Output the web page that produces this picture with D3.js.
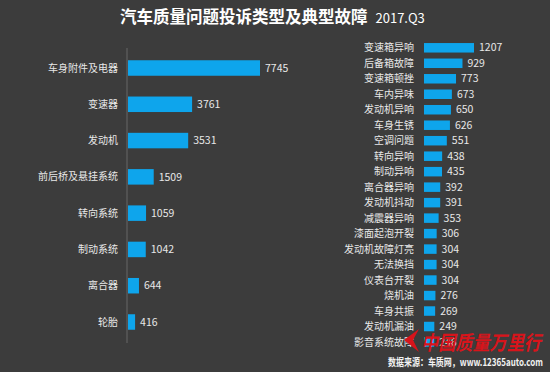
<!DOCTYPE html>
<html>
<head>
<meta charset="utf-8">
<script src="https://cdn.jsdelivr.net/npm/d3@7"></script>
<style>
  body { margin: 0; background: #3c3c3c; }
  svg { display: block; }
  text { font-family: "Microsoft YaHei", "Noto Sans CJK SC", sans-serif; }
</style>
</head>
<body>
<svg id="chart" width="550" height="372"></svg>
<script>
// left chart: complaint types
const typeNames = ["车身附件及电器", "变速器", "发动机", "前后桥及悬挂系统", "转向系统", "制动系统", "离合器", "轮胎"];
const typeValues = [7745, 3761, 3531, 1509, 1059, 1042, 644, 416];

// right chart: typical faults
const faultNames = ["变速箱异响", "后备箱故障", "变速箱顿挫", "车内异味", "发动机异响", "车身生锈", "空调问题", "转向异响",
    "制动异响", "离合器异响", "发动机抖动", "减震器异响", "漆面起泡开裂", "发动机故障灯亮", "无法换挡", "仪表台开裂",
    "烧机油", "车身共振", "发动机漏油", "影音系统故障"];
const faultValues = [1207, 929, 773, 673, 650, 626, 551, 438, 435, 392, 391, 353, 306, 304, 304, 304, 276, 269, 249, 246];

const barColor = "#0ea5ec";
const svg = d3.select("#chart");

svg.append("rect").attr("width", 550).attr("height", 372).attr("fill", "#3c3c3c");

// title
const title = svg.append("text")
    .attr("x", 120).attr("y", 23)
    .attr("fill", "#fff");
title.append("tspan")
    .attr("font-size", 16.5).attr("font-weight", "bold")
    .text("汽车质量问题投诉类型及典型故障");
title.append("tspan")
    .attr("dx", 8).attr("font-size", 13)
    .text("2017.Q3");

function drawBars(g, names, values, opts) {
    const x = d3.scaleLinear().domain([0, opts.max]).range([0, opts.width]);
    const y = d3.scalePoint().domain(names).range([opts.top, opts.bottom]);

    // axis line (left chart only)
    if (opts.axisLine) {
        g.append("line")
            .attr("x1", opts.x0).attr("x2", opts.x0)
            .attr("y1", opts.lineTop).attr("y2", opts.lineBottom)
            .attr("stroke", "#595959").attr("stroke-width", 1.5);
    }

    const row = g.selectAll("g.row")
        .data(names.map((n, i) => ({ name: n, value: values[i] })))
        .enter().append("g")
        .attr("class", "row")
        .attr("transform", d => "translate(0," + y(d.name) + ")");

    row.append("rect")
        .attr("x", opts.x0 + 1)
        .attr("y", -opts.barH / 2)
        .attr("width", d => x(d.value))
        .attr("height", opts.barH)
        .attr("fill", barColor);

    row.append("text")
        .attr("x", opts.labelX)
        .attr("dy", "0.35em")
        .attr("text-anchor", "end")
        .attr("fill", "#e8e8e8")
        .attr("font-size", opts.fontSize)
        .text(d => d.name);

    row.append("text")
        .attr("x", d => opts.x0 + 1 + x(d.value) + 5)
        .attr("dy", "0.35em")
        .attr("fill", "#e8e8e8")
        .attr("font-size", opts.fontSize + 0.5)
        .text(d => d.value);
}

drawBars(svg.append("g"), typeNames, typeValues, {
    max: 7745, width: 132, x0: 127, top: 68, bottom: 322, axisLine: true,
    lineTop: 48, lineBottom: 343, barH: 15.5, labelX: 118, fontSize: 10
});

drawBars(svg.append("g"), faultNames, faultValues, {
    max: 1207, width: 50, x0: 423, top: 47.8, bottom: 342, axisLine: false,
    barH: 9.5, labelX: 414, fontSize: 10
});

// watermark
const mark = svg.append("g");
mark.append("path")
    .attr("d", "M419,329 L404,340 L419,352 L413,340 Z")
    .attr("fill", "#d8141b");
mark.append("text")
    .attr("x", 421).attr("y", 350)
    .attr("fill", "#d8141b")
    .attr("font-size", 20)
    .attr("font-weight", "bold")
    .attr("font-style", "italic")
    .attr("textLength", 120)
    .attr("lengthAdjust", "spacingAndGlyphs")
    .text("中国质量万里行");

// source note
svg.append("text")
    .attr("x", 388).attr("y", 366)
    .attr("fill", "#f2f2f2")
    .attr("font-size", 10.5)
    .attr("font-weight", "bold")
    .attr("textLength", 155)
    .attr("lengthAdjust", "spacingAndGlyphs")
    .text("数据来源：车质网，www.12365auto.com");
</script>
</body>
</html>
